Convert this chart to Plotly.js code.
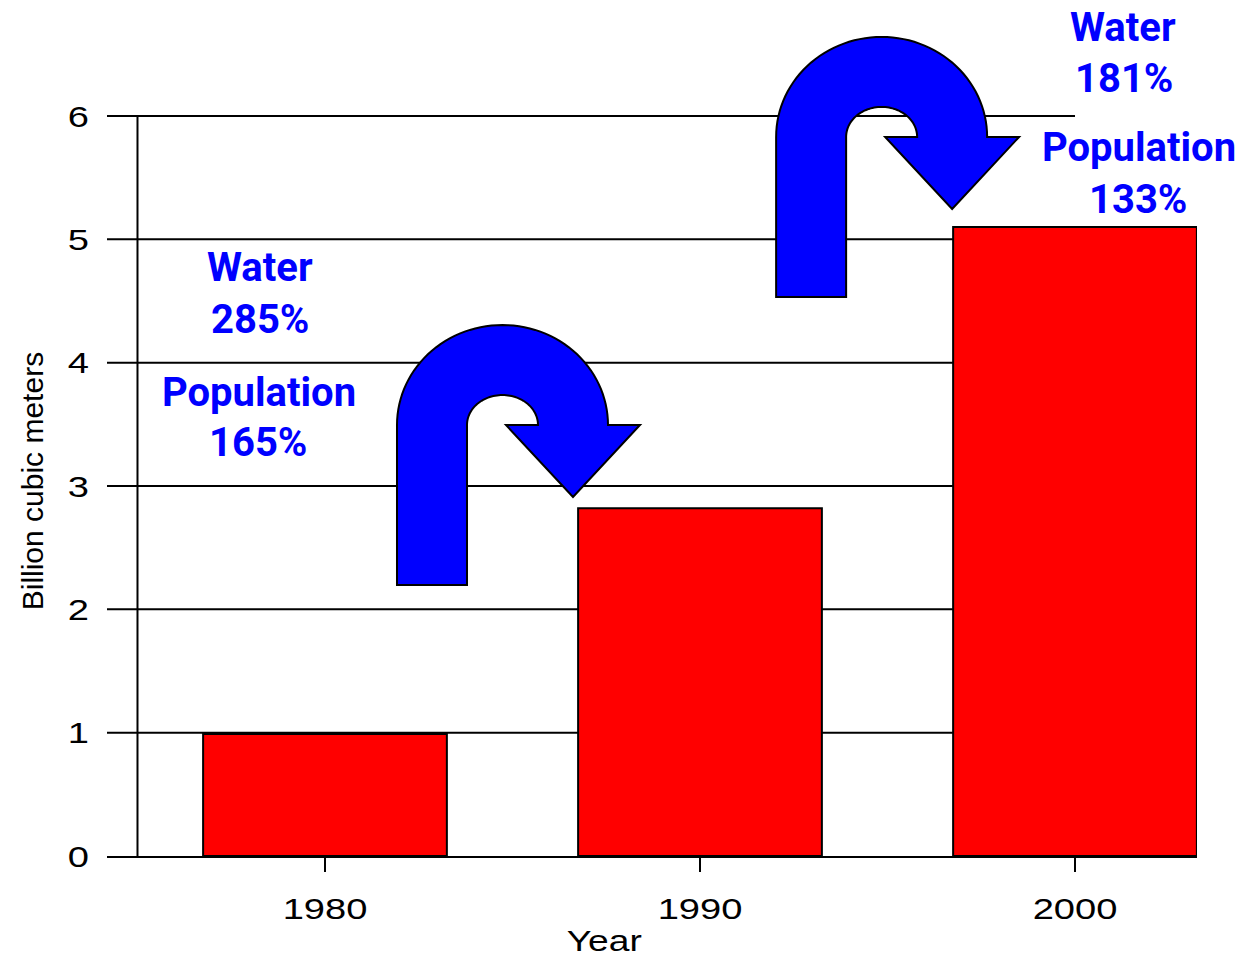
<!DOCTYPE html>
<html>
<head>
<meta charset="utf-8">
<script src="https://cdn.plot.ly/plotly-3.0.1.min.js"></script>
<style>
  html, body { margin: 0; padding: 0; background: #ffffff; }
  #chart { width: 1242px; height: 955px; }
</style>
</head>
<body>
<div id="chart"></div>
<script>
// Water use, billion cubic meters
const years = [1980, 1990, 2000];
const waterUse = [0.99, 2.82, 5.10];
const yTickVals = [0, 1, 2, 3, 4, 5, 6];
const xTickVals = [1980, 1990, 2000];

// Growth between decades
const waterGrowth = ['285%', '181%'];
const populationGrowth = ['165%', '133%'];

const X_RANGE = [1974.187, 2003.253];
const Y_RANGE = [0, 6.0162];

// data units -> paper fractions, so decorations may sit outside the plot area
const toPaperX = x => (x - X_RANGE[0]) / (X_RANGE[1] - X_RANGE[0]);
const toPaperY = y => (y - Y_RANGE[0]) / (Y_RANGE[1] - Y_RANGE[0]);

const axisFont = { family: 'Liberation Sans, Arial, sans-serif', size: 30, color: '#000000' };
const growthFont = { family: 'Roboto, Liberation Sans, Arial, sans-serif', size: 40, color: '#0000FF', weight: 'bold' };

// U-turn arrow outline in pixels, origin at the bottom-left of the shaft, y up
function uTurnArrowPath() {
  const w = 70, h = 160;
  const rxo = 105.5, ryo = 100, rxi = 35.5, ryi = 30;
  const cx = rxo;
  const headL = 109, headR = 243, tipX = 176, tipY = 88;
  const n = 60;
  const f = v => v.toFixed(2);
  let d = `M0,0 L0,${h}`;
  for (let i = 1; i <= n; i++) {
    const t = Math.PI * (1 - i / n);
    d += ` L${f(cx + rxo * Math.cos(t))},${f(h + ryo * Math.sin(t))}`;
  }
  d += ` L${headR},${h} L${tipX},${tipY} L${headL},${h} L${f(cx + rxi)},${h}`;
  for (let i = 1; i <= n; i++) {
    const t = Math.PI * (i / n);
    d += ` L${f(cx + rxi * Math.cos(t))},${f(h + ryi * Math.sin(t))}`;
  }
  d += ` L${w},0 Z`;
  return d;
}

const arrowAnchors = [
  { x: 1981.92, y: 2.197 },
  { x: 1992.03, y: 4.533 }
];

const shapes = [];

// horizontal rules (the top one stops at the last decade)
yTickVals.filter(v => v > 0).forEach(v => {
  shapes.push({
    type: 'line', xref: 'x', yref: 'y', layer: 'below',
    x0: X_RANGE[0], x1: v === 6 ? 2000 : X_RANGE[1], y0: v, y1: v,
    line: { color: '#000000', width: 2 }
  });
});

// vertical value axis
shapes.push({
  type: 'line', xref: 'x', yref: 'y', layer: 'below',
  x0: 1975, x1: 1975, y0: 0, y1: 6,
  line: { color: '#000000', width: 2 }
});

const arrowPath = uTurnArrowPath();
arrowAnchors.forEach(a => {
  shapes.push({
    type: 'path', xref: 'paper', yref: 'paper', layer: 'above',
    xsizemode: 'pixel', ysizemode: 'pixel',
    xanchor: toPaperX(a.x), yanchor: toPaperY(a.y),
    path: arrowPath,
    fillcolor: '#0000FF',
    line: { color: '#000000', width: 2 }
  });
});

// growth labels, positions in data units
const labelSpots = [
  { x: 1978.28, y: 4.77, text: 'Water' },
  { x: 1978.28, y: 4.354, text: waterGrowth[0] },
  { x: 1978.24, y: 3.758, text: 'Population' },
  { x: 1978.22, y: 3.353, text: populationGrowth[0] },
  { x: 2001.29, y: 6.72, text: 'Water' },
  { x: 2001.31, y: 6.30, text: waterGrowth[1] },
  { x: 2001.71, y: 5.745, text: 'Population' },
  { x: 2001.67, y: 5.32, text: populationGrowth[1] }
];

const annotations = labelSpots.map(s => ({
  xref: 'paper', yref: 'paper', x: toPaperX(s.x), y: toPaperY(s.y), text: s.text,
  showarrow: false, xanchor: 'center', yanchor: 'middle',
  font: growthFont
}));

annotations.push({
  xref: 'x', yref: 'paper', x: 1987.44, y: -0.1145,
  text: 'Year', showarrow: false, xanchor: 'center', yanchor: 'middle',
  font: axisFont
});
annotations.push({
  xref: 'paper', yref: 'paper', x: -0.0688, y: 0.505,
  text: 'Billion cubic meters', textangle: -90, showarrow: false,
  xanchor: 'center', yanchor: 'middle',
  font: { family: 'Liberation Sans, Arial, sans-serif', size: 30, color: '#000000' }
});

const trace = {
  type: 'bar',
  x: years,
  y: waterUse,
  width: 6.5,
  cliponaxis: false,
  marker: { color: '#FF0000', line: { color: '#000000', width: 2 } },
  hoverinfo: 'x+y'
};

const layout = {
  width: 1242,
  height: 955,
  margin: { l: 107, r: 45, t: 114, b: 99 },
  paper_bgcolor: '#ffffff',
  plot_bgcolor: '#ffffff',
  showlegend: false,
  bargap: 0,
  xaxis: {
    range: X_RANGE,
    tickvals: xTickVals,
    ticktext: xTickVals.map(String),
    ticks: 'outside', ticklen: 14, tickwidth: 2, tickcolor: '#000000',
    ticklabelstandoff: 11,
    showline: true, linecolor: '#000000', linewidth: 2,
    showgrid: false, zeroline: false,
    tickfont: axisFont,
    fixedrange: true
  },
  yaxis: {
    range: Y_RANGE,
    tickvals: yTickVals,
    ticktext: yTickVals.map(String),
    ticks: '',
    ticklabelstandoff: 17,
    showline: false, showgrid: false, zeroline: false,
    tickfont: axisFont,
    fixedrange: true
  },
  shapes: shapes,
  annotations: annotations
};

// axis lettering is set wide: stretch each label horizontally about its anchor
function widenText(selector, factor) {
  document.querySelectorAll(selector).forEach(t => {
    const ax = parseFloat(t.getAttribute('x')) || 0;
    const prev = t.getAttribute('transform') || '';
    t.setAttribute('transform', `${prev} translate(${ax},0) scale(${factor},1) translate(${-ax},0)`);
  });
}

Plotly.newPlot('chart', [trace], layout, { displayModeBar: false, staticPlot: true })
  .then(() => {
    widenText('#chart .xtick text', 1.27);
    widenText('#chart .ytick text', 1.27);
    widenText('#chart text.annotation-text[data-unformatted="Year"]', 1.24);
  });
</script>
</body>
</html>
